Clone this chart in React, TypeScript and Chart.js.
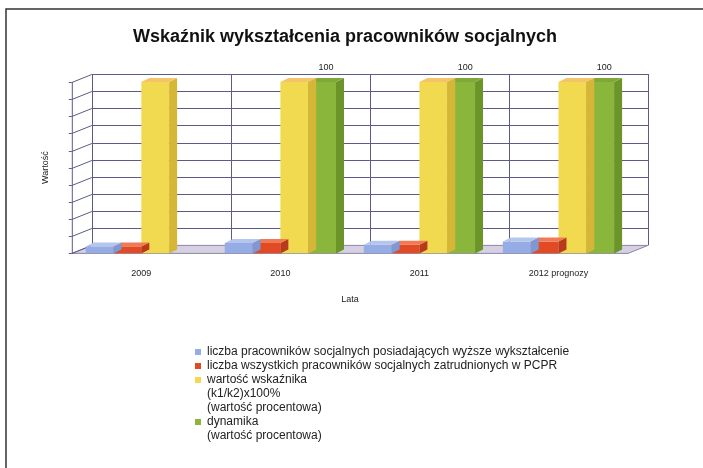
import React, { useEffect, useRef } from 'react';
import { Chart, registerables } from 'chart.js';

Chart.register(...registerables);

const titleText = 'Wskaźnik wykształcenia pracowników socjalnych';
const yAxisTitle = 'Wartość';
const xAxisTitle = 'Lata';
const categories = ['2009', '2010', '2011', '2012 prognozy'];
const seriesLabels = [
  'liczba pracowników socjalnych posiadających wyższe wykształcenie',
  'liczba wszystkich pracowników socjalnych zatrudnionych w PCPR',
  'wartość wskaźnika\n(k1/k2)x100%\n(wartość procentowa)',
  'dynamika\n(wartość procentowa)',
];
const k1Values = [4, 6, 5, 7];
const k2Values = [4, 6, 5, 7];
const indicatorValues = [100, 100, 100, 100];
const dynamicsValues: (number | null)[] = [null, 100, 100, 100];
const yMin = 0;
const yMax = 100;
const yStep = 10;

const frontColors = ['#95ace4', '#e24a24', '#f2da50', '#8ab63c'];
const sideColors = ['#7f97d2', '#b83a1c', '#d6b636', '#6b9429'];
const topColors = ['#b5c6ee', '#f07a55', '#f4c46a', '#7fa838'];

const FONT = '"Liberation Sans", Arial, sans-serif';
const BAR_DX = 8;
const BAR_DY = 4;
const WALL_DX = 20;
const WALL_DY = -8;

const threeD = {
  id: 'threeD',
  beforeDatasetsDraw(chart: any) {
    const { ctx, chartArea: a, scales } = chart;
    const x = scales.x;
    const y = scales.y;
    ctx.save();
    // floor
    ctx.fillStyle = '#d6d0e2';
    ctx.strokeStyle = '#8a86a8';
    ctx.lineWidth = 1;
    ctx.beginPath();
    ctx.moveTo(a.left, a.bottom);
    ctx.lineTo(a.right, a.bottom);
    ctx.lineTo(a.right + WALL_DX, a.bottom + WALL_DY);
    ctx.lineTo(a.left + WALL_DX, a.bottom + WALL_DY);
    ctx.closePath();
    ctx.fill();
    ctx.stroke();
    // back wall grid
    ctx.strokeStyle = '#5c5a86';
    y.ticks.forEach((t: any) => {
      const py = Math.round(y.getPixelForValue(t.value)) + 0.5;
      if (t.value !== yMin) {
        ctx.beginPath();
        ctx.moveTo(a.left + WALL_DX, py + WALL_DY);
        ctx.lineTo(a.right + WALL_DX, py + WALL_DY);
        ctx.stroke();
      }
      ctx.beginPath();
      ctx.moveTo(a.left, py);
      ctx.lineTo(a.left + WALL_DX, py + WALL_DY);
      ctx.stroke();
      ctx.beginPath();
      ctx.moveTo(a.left - 3, py);
      ctx.lineTo(a.left, py);
      ctx.stroke();
    });
    // category dividers on back wall
    for (let i = 0; i <= categories.length; i++) {
      const px = Math.round(x.getPixelForValue(i - 0.5)) + WALL_DX + 0.5;
      ctx.beginPath();
      ctx.moveTo(px, a.top + WALL_DY);
      ctx.lineTo(px, a.bottom + WALL_DY);
      ctx.stroke();
    }
    // left wall front edge
    ctx.beginPath();
    ctx.moveTo(a.left + 0.5, a.top);
    ctx.lineTo(a.left + 0.5, a.bottom);
    ctx.stroke();
    ctx.restore();
  },
  afterDatasetDraw(chart: any, args: any) {
    const { ctx } = chart;
    const idx = args.index;
    const ds = chart.data.datasets[idx];
    ctx.save();
    args.meta.data.forEach((bar: any, i: number) => {
      if (ds.data[i] == null) return;
      const { x, y, base, width } = bar.getProps(['x', 'y', 'base', 'width'], true);
      const l = x - width / 2;
      const r = x + width / 2;
      ctx.fillStyle = sideColors[idx];
      ctx.beginPath();
      ctx.moveTo(r, y);
      ctx.lineTo(r + BAR_DX, y - BAR_DY);
      ctx.lineTo(r + BAR_DX, base - BAR_DY);
      ctx.lineTo(r, base);
      ctx.closePath();
      ctx.fill();
      ctx.fillStyle = topColors[idx];
      ctx.beginPath();
      ctx.moveTo(l, y);
      ctx.lineTo(l + BAR_DX, y - BAR_DY);
      ctx.lineTo(r + BAR_DX, y - BAR_DY);
      ctx.lineTo(r, y);
      ctx.closePath();
      ctx.fill();
    });
    ctx.restore();
  },
  afterDatasetsDraw(chart: any) {
    const { ctx } = chart;
    const idx = 3;
    const ds = chart.data.datasets[idx];
    const meta = chart.getDatasetMeta(idx);
    ctx.save();
    ctx.fillStyle = '#222';
    ctx.font = `9px ${FONT}`;
    ctx.textAlign = 'center';
    ctx.textBaseline = 'middle';
    meta.data.forEach((bar: any, i: number) => {
      const v = ds.data[i];
      if (v == null) return;
      const { x, y } = bar.getProps(['x', 'y'], true);
      ctx.fillText(String(v), x + BAR_DX / 2, y - BAR_DY - 10);
    });
    ctx.restore();
  },
  afterDraw(chart: any) {
    const { ctx } = chart;
    ctx.save();
    // frame
    ctx.strokeStyle = '#333';
    ctx.lineWidth = 1.5;
    ctx.beginPath();
    ctx.moveTo(6, 468);
    ctx.lineTo(6, 9);
    ctx.lineTo(703, 9);
    ctx.stroke();
    // title
    ctx.fillStyle = '#111';
    ctx.font = `bold 18px ${FONT}`;
    ctx.textAlign = 'center';
    ctx.textBaseline = 'middle';
    ctx.fillText(titleText, 345, 37);
    // legend
    ctx.font = `12px ${FONT}`;
    ctx.textBaseline = 'middle';
    ctx.textAlign = 'left';
    let ly = 352;
    chart.data.datasets.forEach((ds: any, i: number) => {
      ctx.fillStyle = frontColors[i];
      ctx.fillRect(195, ly - 3, 6, 6);
      ctx.fillStyle = '#222';
      String(ds.label).split('\n').forEach((line: string) => {
        ctx.fillText(line, 207, ly);
        ly += 14;
      });
    });
    ctx.restore();
  },
};

export default function App() {
  const ref = useRef<HTMLCanvasElement>(null);
  useEffect(() => {
    if (!ref.current) return;
    const chart = new Chart(ref.current, {
      type: 'bar',
      data: {
        labels: categories,
        datasets: [
          { label: seriesLabels[0], data: k1Values, backgroundColor: frontColors[0] },
          { label: seriesLabels[1], data: k2Values, backgroundColor: frontColors[1] },
          { label: seriesLabels[2], data: indicatorValues, backgroundColor: frontColors[2] },
          { label: seriesLabels[3], data: dynamicsValues, backgroundColor: frontColors[3] },
        ],
      },
      options: {
        animation: false,
        responsive: true,
        maintainAspectRatio: false,
        layout: { padding: { left: 30, right: 75, top: 82, bottom: 163 } },
        datasets: { bar: { categoryPercentage: 0.8, barPercentage: 1.0, borderWidth: 0 } },
        plugins: {
          legend: { display: false },
          tooltip: { enabled: false },
          title: { display: false },
        },
        scales: {
          x: {
            grid: { display: false, drawTicks: false },
            border: { display: false },
            ticks: { color: '#222', font: { family: FONT, size: 9 }, padding: 15, maxRotation: 0 },
            title: { display: true, text: xAxisTitle, color: '#222', font: { family: FONT, size: 9 }, padding: { top: 0, bottom: 0 } },
          },
          y: {
            min: yMin,
            max: yMax,
            grid: { display: false, drawTicks: false },
            border: { display: false },
            ticks: { display: false, stepSize: yStep },
            title: { display: true, text: yAxisTitle, color: '#222', font: { family: FONT, size: 9 }, padding: { top: 10, bottom: 21 } },
          },
        },
      },
      plugins: [threeD],
    });
    return () => chart.destroy();
  }, []);
  return (
    <div style={{ position: 'absolute', left: 0, top: 0, width: 703, height: 468, background: '#fff' }}>
      <canvas ref={ref} />
    </div>
  );
}
